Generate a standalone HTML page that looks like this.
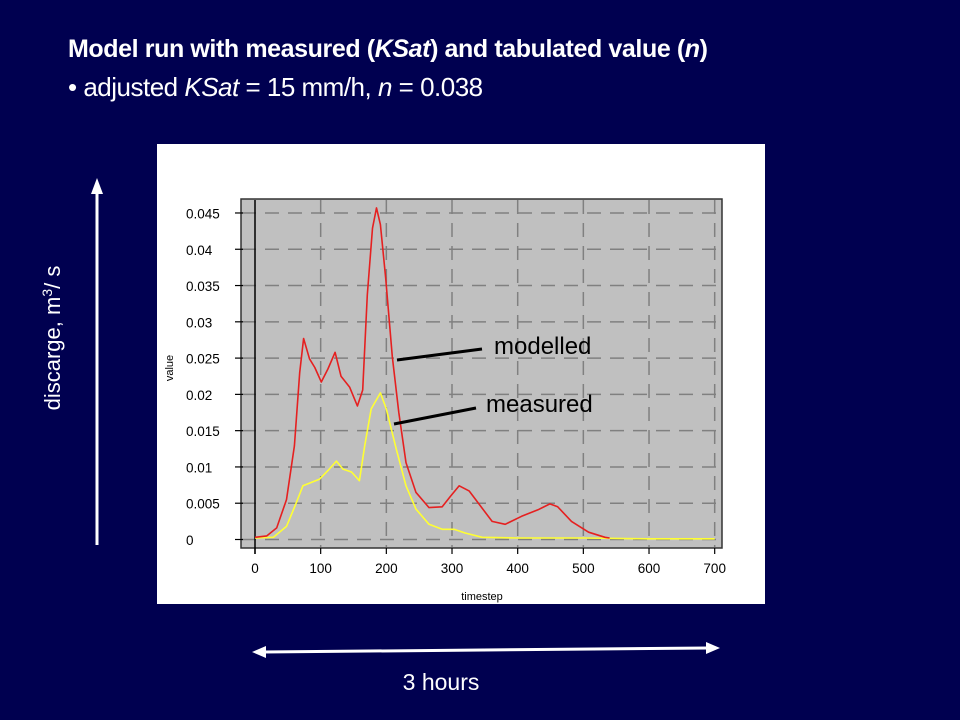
<!DOCTYPE html>
<html><head><meta charset="utf-8">
<style>
body{margin:0;width:960px;height:720px;background:#000050;overflow:hidden;font-family:"Liberation Sans",sans-serif;position:relative}
.t{position:absolute;color:#fff;white-space:nowrap;line-height:1}
</style></head>
<body>
<div class="t" style="left:68px;top:37px;font-size:25px;font-weight:bold;letter-spacing:-0.4px">Model run with measured (<i>KSat</i>) and tabulated value (<i>n</i>)</div>
<div class="t" style="left:68px;top:74px;font-size:26px;letter-spacing:-0.5px">• adjusted <i>KSat</i> = 15 mm/h, <i>n</i> = 0.038</div>
<svg width="960" height="720" style="position:absolute;left:0;top:0">
 <g>
  <line x1="97" y1="545" x2="97" y2="192" stroke="#fff" stroke-width="3"/>
  <polygon points="97,178 91,194 103,194" fill="#fff"/>
 </g>
 <text x="0" y="0" transform="translate(60,338) rotate(-90)" text-anchor="middle" fill="#fff" font-size="22" font-family="Liberation Sans">discarge, m<tspan font-size="14" dy="-8">3</tspan><tspan dy="8">/ s</tspan></text>
 <g>
  <line x1="264" y1="652" x2="708" y2="648" stroke="#fff" stroke-width="3"/>
  <polygon points="252,652 266,646 266,658" fill="#fff"/>
  <polygon points="720,648 706,642 706,654" fill="#fff"/>
 </g>
 <text x="441" y="690" text-anchor="middle" fill="#fff" font-size="23" font-family="Liberation Sans">3 hours</text>
 <rect x="157" y="144" width="608" height="460" fill="#fff"/>
 <rect x="241" y="199" width="481" height="349" fill="#c0c0c0" stroke="#333" stroke-width="1.5"/>
 <g id="grid"></g>
 <g id="series"></g>
 <g id="labels" font-family="Liberation Sans" font-size="13.5" fill="#000"></g>
 <text transform="translate(173,368) rotate(-90)" text-anchor="middle" font-size="11" font-family="Liberation Sans">value</text>
 <text x="482" y="600" text-anchor="middle" font-size="11" font-family="Liberation Sans">timestep</text>
 <g>
  <line x1="397" y1="360" x2="482" y2="349" stroke="#000" stroke-width="3"/>
  <text x="494" y="354" font-size="24" font-family="Liberation Sans">modelled</text>
  <line x1="394" y1="424" x2="476" y2="408" stroke="#000" stroke-width="3"/>
  <text x="486" y="412" font-size="24" font-family="Liberation Sans">measured</text>
 </g>
</svg>
<script>
const yTicks=[0,0.005,0.01,0.015,0.02,0.025,0.03,0.035,0.04,0.045];
const yTickLabels=["0","0.005","0.01","0.015","0.02","0.025","0.03","0.035","0.04","0.045"];
const xTicks=[0,100,200,300,400,500,600,700];
const xTickLabels=["0","100","200","300","400","500","600","700"];
const modelledX=[0,18,33,48,60,68,74,83,91,101,111,122,131,144,156,164,171,179,185,191,199,209,219,230,245,265,285,298,311,326,341,361,381,406,431,449,461,482,508,533,540];
const modelledY=[0.0003,0.0005,0.0016,0.0055,0.0129,0.023,0.0277,0.0249,0.0237,0.0217,0.0235,0.0258,0.0225,0.021,0.0184,0.0206,0.0337,0.0429,0.0457,0.0434,0.036,0.0252,0.0175,0.0106,0.0065,0.0044,0.0045,0.006,0.0074,0.0067,0.0049,0.0025,0.0021,0.0032,0.0041,0.0049,0.0045,0.0025,0.001,0.0003,0.0002];
const measuredX=[0,28,48,63,73,98,111,124,134,147,159,167,177,191,200,215,230,245,265,285,303,320,346,400,500,600,700];
const measuredY=[0.0002,0.0003,0.0018,0.0051,0.0074,0.0083,0.0095,0.0108,0.0097,0.0093,0.0081,0.0129,0.018,0.0202,0.018,0.0125,0.0074,0.0042,0.0021,0.0014,0.0014,0.0009,0.0003,0.0002,0.0002,0.0001,0.0001];
const NS="http://www.w3.org/2000/svg";
const sx=v=>255+v*0.6567;
const sy=v=>539.5-v*7256;
function mk(tag,attrs,parent){const e=document.createElementNS(NS,tag);for(const k in attrs)e.setAttribute(k,attrs[k]);parent.appendChild(e);return e;}
const grid=document.getElementById('grid'),labels=document.getElementById('labels'),series=document.getElementById('series');
yTicks.forEach((v,i)=>{
 const y=sy(v);
 const g=mk('line',{x1:242,x2:721,y1:y,y2:y,stroke:'#808080','stroke-width':1.5,'stroke-dasharray':'14,9'},grid);
 
 
 const tk=mk('line',{x1:235,x2:243,y1:y,y2:y,stroke:'#000','stroke-width':1.2},grid);
 
 
 const t=mk('text',{x:186,y:y+5.5},labels);t.textContent=yTickLabels[i];
 
 
});
xTicks.forEach((v,i)=>{
 const x=sx(v);
 if(v>0){const g=mk('line',{x1:x,x2:x,y1:200,y2:547,stroke:'#808080','stroke-width':1.5,'stroke-dasharray':'14,9'},grid);
 
 }
 const tk=mk('line',{x1:x,x2:x,y1:548,y2:554,stroke:'#000','stroke-width':1.2},grid);
 
 
 const t=mk('text',{x:x,y:573,'text-anchor':'middle'},labels);t.textContent=xTickLabels[i];
 
 
});
const ax=mk('line',{x1:sx(0),x2:sx(0),y1:200,y2:554,stroke:'#000','stroke-width':1.5},grid);


function path(xs,ys){return xs.map((x,i)=>(i?'L':'M')+sx(x).toFixed(1)+','+sy(ys[i]).toFixed(1)).join(' ');}
const m=mk('path',{d:path(measuredX,measuredY),fill:'none',stroke:'#ffff33','stroke-width':1.6,'stroke-linejoin':'round'},series);


const r=mk('path',{d:path(modelledX,modelledY),fill:'none',stroke:'#e52020','stroke-width':1.6,'stroke-linejoin':'round'},series);


</script>
</body></html>
